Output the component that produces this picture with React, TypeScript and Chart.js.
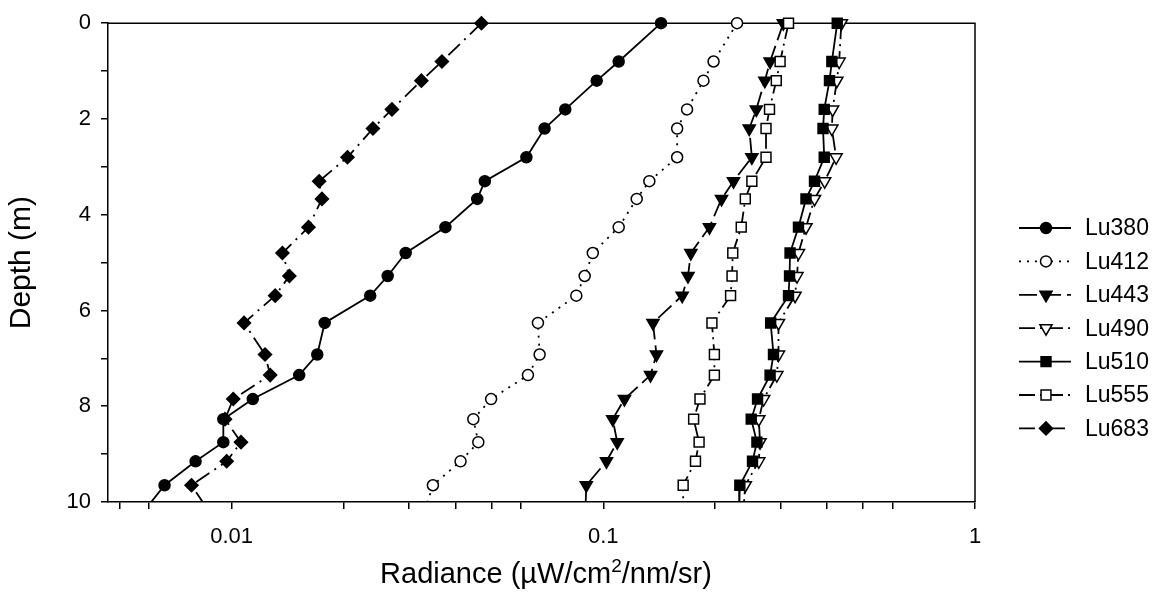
import React, { useEffect, useRef } from 'react';
import { Chart, registerables } from 'chart.js';

Chart.register(...registerables);

// ---------- data ----------
const DEPTH = [0, 0.8, 1.2, 1.8, 2.2, 2.8, 3.3, 3.67, 4.26, 4.8, 5.28, 5.69, 6.26, 6.92, 7.35, 7.85, 8.27, 8.75, 9.15, 9.65, 10.2];

const LU380 = [0.143, 0.110, 0.096, 0.079, 0.0695, 0.0621, 0.048, 0.0458, 0.0376, 0.0294, 0.0263, 0.0236, 0.0178, 0.0170, 0.0152, 0.0114, 0.0095, 0.0095, 0.0080, 0.0066, 0.0058];
const LU412 = [0.229, 0.198, 0.186, 0.168, 0.158, 0.158, 0.133, 0.123, 0.110, 0.0937, 0.0891, 0.0846, 0.0667, 0.0674, 0.0627, 0.0499, 0.0447, 0.0461, 0.0413, 0.0348, 0.033];
const LU443 = [0.305, 0.281, 0.272, 0.258, 0.247, 0.251, 0.224, 0.208, 0.193, 0.172, 0.169, 0.163, 0.136, 0.139, 0.134, 0.114, 0.106, 0.109, 0.102, 0.0900, 0.0895];
const LU490 = [0.437, 0.431, 0.425, 0.414, 0.412, 0.423, 0.394, 0.370, 0.351, 0.335, 0.332, 0.328, 0.296, 0.296, 0.293, 0.270, 0.262, 0.264, 0.262, 0.241, 0.238];
const LU510 = [0.426, 0.412, 0.406, 0.393, 0.390, 0.393, 0.370, 0.351, 0.335, 0.318, 0.317, 0.315, 0.282, 0.287, 0.281, 0.260, 0.250, 0.259, 0.252, 0.233, 0.232];
const LU555 = [0.315, 0.299, 0.292, 0.280, 0.274, 0.274, 0.251, 0.241, 0.235, 0.223, 0.222, 0.220, 0.196, 0.199, 0.199, 0.182, 0.175, 0.181, 0.177, 0.164, 0.164];
const LU683 = [0.0470, 0.0368, 0.0324, 0.0270, 0.0240, 0.0205, 0.0172, 0.0175, 0.0161, 0.0137, 0.0143, 0.0131, 0.0108, 0.0123, 0.0127, 0.0101, 0.0096, 0.0106, 0.0097, 0.0078, 0.0087];

const SERIES_NAMES = ['Lu380', 'Lu412', 'Lu443', 'Lu490', 'Lu510', 'Lu555', 'Lu683'];
const SERIES_VALUES = [LU380, LU412, LU443, LU490, LU510, LU555, LU683];

const X_TICKS = [0.005, 0.006, 0.01, 0.02, 0.03, 0.04, 0.05, 0.06, 0.1, 0.2, 0.3, 0.4, 0.5, 0.6, 1];
const Y_TICKS = [0, 1, 2, 3, 4, 5, 6, 7, 8, 9, 10];

const X_TITLE_MAIN = 'Radiance (\u00b5W/cm';
const X_TITLE_SUP = '2';
const X_TITLE_END = '/nm/sr)';
const Y_TITLE = 'Depth (m)';

// ---------- styles ----------
type Sty = { shape: string; filled: boolean; dash: number[]; r: number };
const STYLES: Sty[] = [
  { shape: 'circle', filled: true, dash: [], r: 5.5 },
  { shape: 'circle', filled: false, dash: [2, 6], r: 5.5 },
  { shape: 'triDown', filled: true, dash: [18, 6], r: 7 },
  { shape: 'triDown', filled: false, dash: [16, 5, 2, 5], r: 7 },
  { shape: 'rect', filled: true, dash: [], r: 7 },
  { shape: 'rect', filled: false, dash: [16, 5, 2, 5], r: 7 },
  { shape: 'rectRot', filled: true, dash: [16, 6, 2, 6], r: 6.5 },
];

const FONT = '"Liberation Sans", Arial, Helvetica, sans-serif';

function drawMarker(ctx: CanvasRenderingContext2D, s: Sty, x: number, y: number) {
  const r = s.r;
  ctx.save();
  ctx.setLineDash([]);
  ctx.beginPath();
  if (s.shape === 'circle') {
    ctx.arc(x, y, r, 0, Math.PI * 2);
  } else if (s.shape === 'triDown') {
    ctx.moveTo(x, y + r);
    ctx.lineTo(x - 0.866 * r, y - 0.5 * r);
    ctx.lineTo(x + 0.866 * r, y - 0.5 * r);
    ctx.closePath();
  } else if (s.shape === 'rect') {
    const h = Math.SQRT1_2 * r;
    ctx.rect(x - h, y - h, 2 * h, 2 * h);
  } else {
    ctx.moveTo(x - r, y);
    ctx.lineTo(x, y - r);
    ctx.lineTo(x + r, y);
    ctx.lineTo(x, y + r);
    ctx.closePath();
  }
  ctx.fillStyle = s.filled ? '#000' : '#fff';
  ctx.fill();
  ctx.lineWidth = 1.5;
  ctx.strokeStyle = '#000';
  ctx.stroke();
  ctx.restore();
}

const framePlugin = {
  id: 'framePlugin',
  beforeDraw(chart: any) {
    const ctx = chart.ctx;
    ctx.save();
    ctx.fillStyle = '#fff';
    ctx.fillRect(0, 0, chart.width, chart.height);
    ctx.restore();
  },
  beforeDatasetsDraw(chart: any) {
    const { ctx, chartArea: a } = chart;
    ctx.save();
    ctx.strokeStyle = '#000';
    ctx.lineWidth = 1.5;
    ctx.beginPath();
    ctx.moveTo(a.left, a.top);
    ctx.lineTo(a.right, a.top);
    ctx.lineTo(a.right, a.bottom);
    ctx.stroke();
    ctx.restore();
  },
  afterDraw(chart: any) {
    const { ctx, chartArea: a } = chart;
    ctx.save();
    // legend
    const lx0 = 1019, lx1 = 1071, mx = 1046, tx = 1085, y0 = 228, dy = 33.4;
    SERIES_NAMES.forEach((name, i) => {
      const s = STYLES[i];
      const y = y0 + i * dy;
      ctx.strokeStyle = '#000';
      ctx.lineWidth = 1.8;
      ctx.setLineDash(s.dash);
      ctx.beginPath();
      ctx.moveTo(lx0, y);
      ctx.lineTo(lx1, y);
      ctx.stroke();
      ctx.setLineDash([]);
      drawMarker(ctx, s, mx, y);
      ctx.fillStyle = '#000';
      ctx.font = `23px ${FONT}`;
      ctx.textAlign = 'left';
      ctx.textBaseline = 'middle';
      ctx.fillText(name, tx, y + 1);
    });
    // x title with superscript
    ctx.fillStyle = '#000';
    ctx.textBaseline = 'alphabetic';
    ctx.textAlign = 'left';
    const big = `29px ${FONT}`;
    const small = `19px ${FONT}`;
    ctx.font = big;
    const w1 = ctx.measureText(X_TITLE_MAIN).width;
    const w3 = ctx.measureText(X_TITLE_END).width;
    ctx.font = small;
    const w2 = ctx.measureText(X_TITLE_SUP).width;
    const total = w1 + w2 + w3;
    const cx = 546;
    const by = 583;
    let x = cx - total / 2;
    ctx.font = big;
    ctx.fillText(X_TITLE_MAIN, x, by);
    x += w1;
    ctx.font = small;
    ctx.fillText(X_TITLE_SUP, x, by - 11);
    x += w2;
    ctx.font = big;
    ctx.fillText(X_TITLE_END, x, by);
    // y title
    ctx.save();
    ctx.translate(30, (a.top + a.bottom) / 2);
    ctx.rotate(-Math.PI / 2);
    ctx.font = `30px ${FONT}`;
    ctx.textAlign = 'center';
    ctx.textBaseline = 'alphabetic';
    ctx.fillText(Y_TITLE, 0, 0);
    ctx.restore();
    ctx.restore();
  },
};

function isDecade(v: number) {
  const l = Math.log10(v);
  return Math.abs(l - Math.round(l)) < 1e-9;
}

export default function App() {
  const ref = useRef<HTMLCanvasElement>(null);
  useEffect(() => {
    const canvas = ref.current!;
    const datasets = SERIES_NAMES.map((name, i) => {
      const s = STYLES[i];
      return {
        label: name,
        data: DEPTH.map((d, k) => ({ x: SERIES_VALUES[i][k], y: d })),
        showLine: true,
        borderColor: '#000',
        borderWidth: 1.8,
        borderDash: s.dash,
        pointStyle: s.shape === 'triDown' ? 'triangle' : s.shape,
        pointRotation: s.shape === 'triDown' ? 180 : 0,
        pointRadius: s.r,
        pointHoverRadius: s.r,
        pointBackgroundColor: s.filled ? '#000' : '#fff',
        pointBorderColor: '#000',
        pointBorderWidth: 1.5,
        order: 10 - i,
        clip: { left: 12, top: 12, right: 12, bottom: 0 },
      };
    });
    const gridCfg = {
      display: true,
      drawOnChartArea: false,
      drawTicks: true,
      tickLength: 7,
      color: '#000',
      lineWidth: 1.5,
    };
    const chart = new Chart(canvas, {
      type: 'scatter',
      data: { datasets } as any,
      options: {
        responsive: false,
        animation: false,
        devicePixelRatio: 1,
        layout: { padding: { left: 0, top: 19, right: 180, bottom: 0 } },
        plugins: { legend: { display: false }, tooltip: { enabled: false } },
        events: [],
        scales: {
          x: {
            type: 'logarithmic',
            min: 0.00465,
            max: 1,
            afterBuildTicks: (scale: any) => {
              scale.ticks = X_TICKS.map((v) => ({ value: v }));
            },
            afterFit: (scale: any) => {
              scale.height = 99;
            },
            ticks: {
              autoSkip: false,
              maxRotation: 0,
              minRotation: 0,
              padding: 15,
              color: '#000',
              font: { size: 22, family: FONT },
              callback: (v: any) => (isDecade(Number(v)) ? String(Number(v)) : ''),
            },
            grid: gridCfg,
            border: { display: true, color: '#000', width: 1.5 },
          },
          y: {
            type: 'linear',
            reverse: true,
            min: 0,
            max: 10,
            afterBuildTicks: (scale: any) => {
              scale.ticks = Y_TICKS.map((v) => ({ value: v }));
            },
            afterFit: (scale: any) => {
              scale.width = 108;
            },
            ticks: {
              autoSkip: false,
              padding: 10,
              color: '#000',
              font: { size: 22, family: FONT },
              callback: (v: any) => (Number(v) % 2 === 0 ? String(v) : ''),
            },
            grid: gridCfg,
            border: { display: true, color: '#000', width: 1.5 },
          },
        },
      } as any,
      plugins: [framePlugin],
    });
    return () => chart.destroy();
  }, []);
  return (
    <div style={{ position: 'fixed', left: 0, top: 0, width: 1155, height: 601, background: '#fff' }}>
      <canvas ref={ref} width={1155} height={601} style={{ display: 'block' }} />
    </div>
  );
}
